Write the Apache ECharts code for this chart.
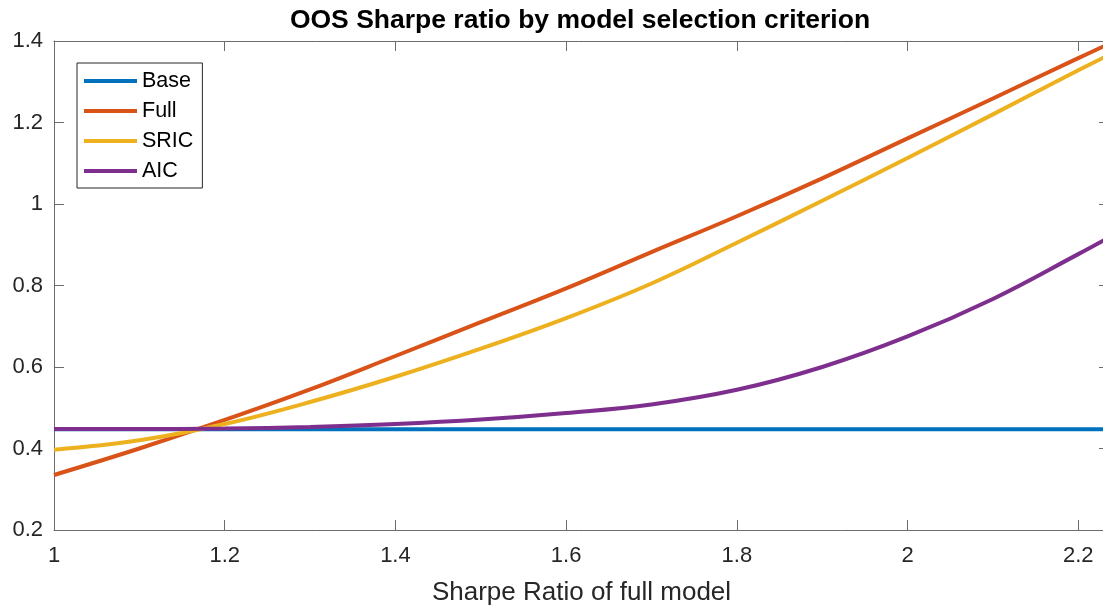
<!DOCTYPE html>
<html>
<head>
<meta charset="utf-8">
<script src="https://cdn.jsdelivr.net/npm/echarts@6/dist/echarts.min.js"></script>
<style>
html,body{margin:0;padding:0;background:#fff;}
#chart{width:1103px;height:605px;}
</style>
</head>
<body>
<div id="chart"></div>
<script>
const xValues = [1.0, 1.1, 1.2, 1.3, 1.4, 1.5, 1.6, 1.7, 1.8, 1.9, 2.0, 2.1, 2.2, 2.236];
const base = [0.447, 0.447, 0.447, 0.447, 0.447, 0.447, 0.447, 0.447, 0.447, 0.447, 0.447, 0.447, 0.447, 0.447];
const full = [0.335, 0.400, 0.470, 0.545, 0.627, 0.710, 0.793, 0.882, 0.970, 1.063, 1.161, 1.259, 1.358, 1.393];
const sric = [0.397, 0.420, 0.460, 0.514, 0.576, 0.645, 0.720, 0.805, 0.905, 1.008, 1.113, 1.220, 1.328, 1.366];
const aic  = [0.448, 0.448, 0.449, 0.453, 0.460, 0.471, 0.487, 0.508, 0.544, 0.600, 0.675, 0.767, 0.877, 0.918];
const seriesNames = ['Base', 'Full', 'SRIC', 'AIC'];
const seriesColors = ['#0072BD', '#D95319', '#EDB120', '#7E2F8E'];
const titleText = 'OOS Sharpe ratio by model selection criterion';
const xLabel = 'Sharpe Ratio of full model';

const FONT = '"Liberation Sans", Arial, Helvetica, sans-serif';
const axisCol = '#6b6b6b';
const textCol = '#262626';

function pairs(ys){ return xValues.map((x,i)=>[x, ys[i]]); }
const allData = [base, full, sric, aic];

const chart = echarts.init(document.getElementById('chart'), null, {renderer:'canvas'});
const option = {
  backgroundColor: '#fff',
  animation: false,
  title: {
    text: titleText,
    left: 575, top: 2, textAlign: 'center',
    textStyle: {fontFamily: FONT, fontSize: 26.5, fontWeight: 'bold', color: '#000'}
  },
  grid: {left: 54, right: -6, top: 41, bottom: 75, containLabel: false, outerBoundsMode: 'none'},
  legend: {
    orient: 'vertical', left: 77, top: 63,
    data: seriesNames,
    icon: 'rect', itemWidth: 53, itemHeight: 4, itemGap: 6,
    borderColor: '#262626', borderWidth: 1,
    padding: [6, 9, 5, 7],
    backgroundColor: '#fff',
    textStyle: {fontFamily: FONT, fontSize: 21.5, color: '#000', lineHeight: 24}
  },
  xAxis: [{
    type: 'value', min: 1, max: 2.236, interval: 0.2,
    name: xLabel, nameLocation: 'middle', nameGap: 50,
    nameTextStyle: {fontFamily: FONT, fontSize: 26, color: textCol},
    axisLine: {show: true, lineStyle: {color: axisCol, width: 1}},
    axisTick: {show: true, inside: true, length: 10, lineStyle: {color: axisCol}},
    axisLabel: {fontFamily: FONT, fontSize: 22, color: textCol, margin: 15, showMaxLabel: false},
    splitLine: {show: false}
  },{
    type: 'value', min: 1, max: 2.236, interval: 0.2, position: 'top',
    axisLine: {show: true, lineStyle: {color: axisCol, width: 1}},
    axisTick: {show: true, inside: true, length: 10, lineStyle: {color: axisCol}},
    axisLabel: {show: false}, splitLine: {show: false}
  }],
  yAxis: [{
    type: 'value', min: 0.2, max: 1.4, interval: 0.2,
    axisLine: {show: true, lineStyle: {color: axisCol, width: 1}},
    axisTick: {show: true, inside: true, length: 10, lineStyle: {color: axisCol}},
    axisLabel: {fontFamily: FONT, fontSize: 22, color: textCol, margin: 11},
    splitLine: {show: false}
  },{
    type: 'value', min: 0.2, max: 1.4, interval: 0.2, position: 'right',
    axisLine: {show: true, lineStyle: {color: axisCol, width: 1}},
    axisTick: {show: true, inside: true, length: 10, lineStyle: {color: axisCol}},
    axisLabel: {show: false}, splitLine: {show: false}
  }],
  series: seriesNames.map((n, i) => ({
    name: n, type: 'line', xAxisIndex: 0, yAxisIndex: 0,
    data: pairs(allData[i]),
    smooth: 0.4, showSymbol: false, symbol: 'none',
    lineStyle: {width: 4, color: seriesColors[i]},
    itemStyle: {color: seriesColors[i]},
    z: i === 0 ? 2 : 3
  }))
};
chart.setOption(option);
</script>
</body>
</html>
